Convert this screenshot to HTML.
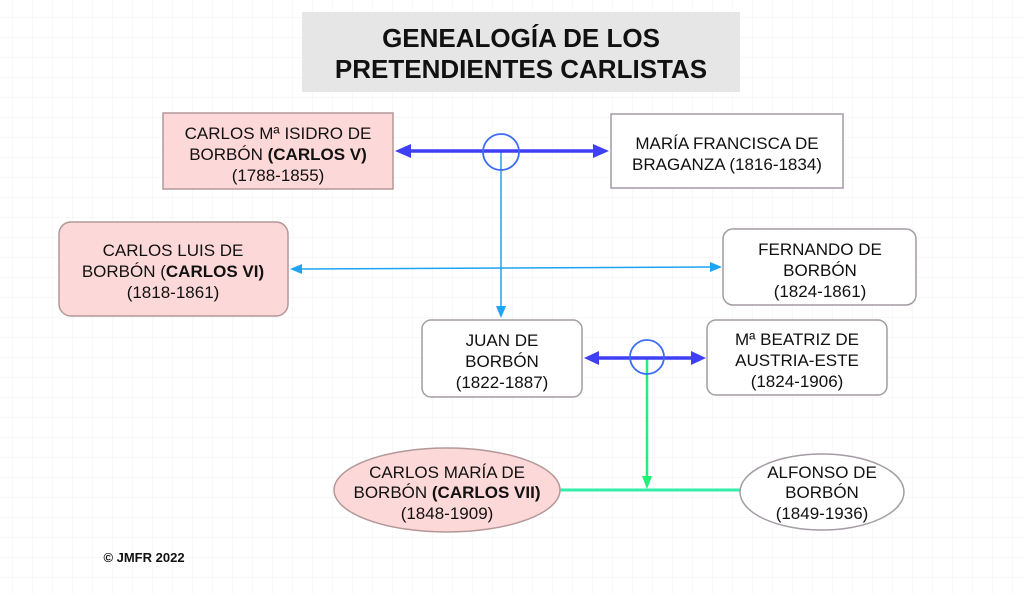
<!DOCTYPE html>
<html><head><meta charset="utf-8"><style>
html,body{margin:0;padding:0;background:#fff}
svg{display:block}
text{font-family:"Liberation Sans",Arial,sans-serif;font-size:17px;fill:#111;text-anchor:middle}
.b{font-weight:bold}
</style></head><body>
<svg width="1024" height="594" viewBox="0 0 1024 594" xmlns="http://www.w3.org/2000/svg">
<defs>
<pattern id="g" x="12" y="17" width="20" height="20" patternUnits="userSpaceOnUse">
<path d="M0 0H20M0 0V20" stroke="#f0f0f0" stroke-width="1" fill="none"/>
</pattern>
</defs>
<rect width="1024" height="594" fill="url(#g)"/>
<rect x="302" y="12" width="438" height="80" fill="#e6e6e6"/>
<text x="521" y="47" class="b" style="font-size:26px">GENEALOGÍA DE LOS</text>
<text x="521" y="78" class="b" style="font-size:26px">PRETENDIENTES CARLISTAS</text>

<line x1="501" y1="152" x2="501" y2="308" stroke="#1ea4f4" stroke-width="1.5"/>
<polygon points="496,306 506,306 501,318" fill="#1ea4f4"/>
<line x1="300" y1="269" x2="712" y2="267" stroke="#1ea4f4" stroke-width="1.5"/>
<polygon points="290,269 302,264 302,274" fill="#1ea4f4"/>
<polygon points="722,267 710,262 710,272" fill="#1ea4f4"/>
<line x1="405" y1="151" x2="600" y2="151" stroke="#3f3ff5" stroke-width="3.5"/>
<polygon points="395,151 411,144 411,158" fill="#3f3ff5"/>
<polygon points="609,151 593,144 593,158" fill="#3f3ff5"/>
<circle cx="501" cy="152" r="18" fill="none" stroke="#3b6cf5" stroke-width="1.8"/>

<line x1="647" y1="358" x2="647" y2="478" stroke="#22ee7a" stroke-width="2.5"/>
<polygon points="642,476 652,476 647,489" fill="#22ee7a"/>
<line x1="556" y1="490" x2="740" y2="490" stroke="#33eeaa" stroke-width="3"/>
<line x1="594" y1="358" x2="696" y2="358" stroke="#3f3ff5" stroke-width="3.5"/>
<polygon points="584,358 599,351 599,365" fill="#3f3ff5"/>
<polygon points="706,358 691,351 691,365" fill="#3f3ff5"/>
<circle cx="647" cy="357" r="17" fill="none" stroke="#3b6cf5" stroke-width="1.8"/>

<rect x="163" y="113" width="230" height="76" fill="#fdd8d8" stroke="#b49898" stroke-width="1.5"/>
<text x="278" y="139">CARLOS Mª ISIDRO DE</text>
<text x="278" y="160">BORBÓN <tspan class="b">(CARLOS V)</tspan></text>
<text x="278" y="181">(1788-1855)</text>

<rect x="611" y="114" width="232" height="74" fill="#fff" stroke="#a49ca4" stroke-width="1.5"/>
<text x="727" y="149">MARÍA FRANCISCA DE</text>
<text x="727" y="170">BRAGANZA (1816-1834)</text>

<rect x="59" y="222" width="229" height="94" rx="12" fill="#fdd8d8" stroke="#b49898" stroke-width="1.5"/>
<text x="173" y="256">CARLOS LUIS DE</text>
<text x="173" y="277">BORBÓN (<tspan class="b">CARLOS VI)</tspan></text>
<text x="173" y="298">(1818-1861)</text>

<rect x="723" y="229" width="193" height="76" rx="10" fill="#fff" stroke="#a49ca4" stroke-width="1.5"/>
<text x="820" y="255">FERNANDO DE</text>
<text x="820" y="276">BORBÓN</text>
<text x="820" y="297">(1824-1861)</text>

<rect x="422" y="320" width="160" height="77" rx="9" fill="#fff" stroke="#a49ca4" stroke-width="1.5"/>
<text x="502" y="346">JUAN DE</text>
<text x="502" y="367">BORBÓN</text>
<text x="502" y="388">(1822-1887)</text>

<rect x="707" y="320" width="180" height="75" rx="9" fill="#fff" stroke="#a49ca4" stroke-width="1.5"/>
<text x="797" y="345">Mª BEATRIZ DE</text>
<text x="797" y="366">AUSTRIA-ESTE</text>
<text x="797" y="387">(1824-1906)</text>

<ellipse cx="447" cy="490" rx="113" ry="42" fill="#fdd8d8" stroke="#b49898" stroke-width="1.5"/>
<text x="447" y="478">CARLOS MARÍA DE</text>
<text x="447" y="498">BORBÓN <tspan class="b">(CARLOS VII)</tspan></text>
<text x="447" y="519">(1848-1909)</text>

<ellipse cx="822" cy="492" rx="82" ry="38" fill="#fff" stroke="#a49ca4" stroke-width="1.5"/>
<text x="822" y="478">ALFONSO DE</text>
<text x="822" y="498">BORBÓN</text>
<text x="822" y="519">(1849-1936)</text>

<text x="144" y="562" class="b" style="font-size:13px">© JMFR 2022</text>
</svg>
</body></html>
